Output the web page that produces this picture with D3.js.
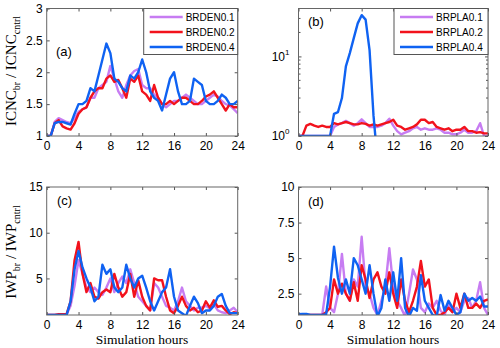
<!DOCTYPE html>
<html>
<head>
<meta charset="utf-8">
<script src="https://cdn.jsdelivr.net/npm/d3@7"></script>
<style>
  body { margin: 0; background: #fff; }
  svg { display: block; }
  .tick text { font-family: "Liberation Sans", Arial, sans-serif; font-size: 12px; fill: #000; }
  .ylab, .xlab { font-family: "Liberation Serif", "Times New Roman", serif; fill: #000; }
</style>
</head>
<body>
<svg id="chart" width="500" height="348"></svg>
<script>
// time grid, half-hour steps
var hours = d3.range(0, 24.001, 0.5);
var xTicks = [0, 4, 8, 12, 16, 20, 24];

var namesDEN = ["BRDEN0.1", "BRDEN0.2", "BRDEN0.4"];
var namesPLA = ["BRPLA0.1", "BRPLA0.2", "BRPLA0.4"];
var colors = ["#c77cf2", "#f2121c", "#0f62f2"];

// (a) ICNC ratio, BRDEN runs
var a_p = [1.0,1.0,1.22,1.28,1.25,1.22,1.2,1.28,1.38,1.42,1.45,1.6,1.6,1.75,1.8,1.85,2.1,1.9,1.7,1.6,1.8,1.95,2.02,2.05,1.8,1.75,1.75,1.65,1.6,1.5,1.45,1.5,1.55,1.55,1.6,1.65,1.6,1.55,1.5,1.5,1.55,1.6,1.65,1.62,1.55,1.5,1.48,1.42,1.36];
var a_r = [1.0,1.0,1.2,1.25,1.15,1.12,1.1,1.2,1.35,1.42,1.45,1.6,1.7,1.75,1.75,1.9,1.95,1.85,1.88,1.75,1.6,1.9,1.85,1.95,1.7,1.65,1.55,1.8,1.6,1.5,1.5,1.55,1.5,1.55,1.6,1.6,1.55,1.5,1.5,1.55,1.62,1.65,1.7,1.6,1.5,1.4,1.5,1.45,1.45];
var a_b = [1.0,1.0,1.2,1.22,1.22,1.2,1.18,1.35,1.5,1.5,1.55,1.75,1.7,1.95,2.2,2.45,2.3,1.9,1.85,1.75,1.7,1.95,1.9,2.0,2.2,2.0,1.7,1.6,1.55,1.4,1.65,1.9,2.0,1.7,1.5,1.5,1.55,1.9,1.85,1.8,1.55,1.5,1.5,1.55,1.65,1.6,1.5,1.5,1.55];

// (b) ICNC ratio, BRPLA runs (log axis)
var b_p = [1,1,1,1,1,1,1,1,1,1.3,1.4,1.45,1.55,1.45,1.35,1.45,1.62,1.45,1.3,1.3,1.3,1.35,1.45,1.65,1.35,1.15,1.05,1.1,1.15,1.25,1.3,1.2,1.25,1.2,1.2,1.25,1.2,1.1,1.1,1.05,1.05,1.1,1.2,1.1,1.1,1.15,1.45,1.0,1.0];
var b_r = [1,1,1.35,1.42,1.35,1.3,1.35,1.3,1.3,1.45,1.4,1.45,1.5,1.45,1.4,1.4,1.45,1.42,1.35,1.4,1.35,1.4,1.45,1.5,1.6,1.35,1.3,1.2,1.25,1.3,1.4,1.6,1.6,1.45,1.5,1.3,1.25,1.2,1.25,1.15,1.2,1.2,1.3,1.15,1.15,1.1,1.12,1.08,1.08];
var b_b = [1,1,1,1,1,1,1,1,1,1.9,2.0,3.0,7.5,11,17,26,33,29,12,1.8,0.5,0.5,0.5,0.5,0.5,0.5,0.5,0.5,0.5,0.5,0.5,0.5,0.5,0.5,0.5,0.5,0.5,0.5,0.5,0.5,0.5,0.5,0.5,0.5,0.5,0.5,0.5,0.5,0.5];

// (c) IWP ratio, BRDEN runs
var c_p = [1,1,1,1,1.05,1.05,2.0,4.2,7.0,5.5,4.0,3.5,4.0,3.5,3.2,4.0,5.0,3.5,4.5,5.2,4.5,6.0,4.5,3.0,2.5,2.0,1.5,4.5,4.0,3.0,2.0,1.8,1.5,2.5,4.0,2.5,2.0,1.5,1.8,1.8,2.0,1.7,2.2,1.5,1.3,1.2,1.5,1.8,1.3];
var c_r = [1,1,1,1.1,1.1,1.1,2.5,7.0,9.0,5.5,3.5,4.5,3.0,2.8,3.5,3.8,3.5,5.5,4.0,3.0,3.5,5.5,3.0,4.8,3.0,2.0,1.5,5.0,4.8,4.8,3.0,1.5,1.2,2.0,3.0,2.0,1.5,1.8,1.3,1.5,2.5,1.8,2.6,1.9,2.0,1.5,1.1,1.3,1.2];
var c_b = [1,1,1,1,1,1,2.5,6.0,8.0,6.2,5.0,4.0,2.5,3.0,6.5,5.5,6.0,4.0,3.5,4.0,6.5,5.0,4.0,5.0,5.3,4.0,2.5,1.5,2.5,3.5,4.0,6.0,3.0,1.5,1.2,0.9,2.0,3.0,2.3,1.2,1.5,1.5,2.0,3.0,3.3,2.0,1.2,1.2,1.2];

// (d) IWP ratio, BRPLA runs
var d_p = [1,1,1,1,1,1,1,3.0,1.5,1.2,2.5,5.3,2.5,2.0,3.5,3.0,6.5,3.0,2.5,1.5,1.0,2.0,3.0,5.7,3.0,2.0,1.5,0.9,2.5,4.2,3.5,1.5,1.2,1.8,1.5,2.0,1.3,1.0,1.8,1.2,1.5,1.2,2.0,2.2,1.5,2.0,3.3,1.5,1.0];
var d_r = [1,1,1,1,1,1,1,1.2,1.5,3.5,2.5,3.2,2.5,2.0,3.3,2.0,4.5,3.5,2.2,3.5,4.0,3.0,2.5,4.0,2.5,1.5,3.5,2.0,1.2,2.0,3.0,4.8,3.0,3.5,1.5,1.0,1.0,1.2,1.5,1.2,2.5,1.5,2.5,1.5,1.5,1.8,1.5,2.0,2.1];
var d_b = [1.05,1.08,1.08,1.0,1.0,1.0,1.0,1.05,3.0,5.8,3.6,2.5,3.5,2.5,5.0,4.5,3.5,2.5,4.5,2.5,0.9,1.5,3.5,2.0,4.0,2.0,5.0,1.5,0.9,1.5,1.3,3.8,2.0,1.5,1.0,0.9,2.4,1.3,2.0,1.5,1.0,1.2,2.5,2.0,2.2,2.0,2.3,1.6,1.6];

var svg = d3.select("#chart");

var panels = [
  {id: "a", x0: 46.7, x1: 237.7, y0: 8.5, y1: 136, dom: [1, 3], ticks: [1, 1.5, 2, 2.5, 3], log: false,
   series: [a_p, a_r, a_b], names: namesDEN, lab: "(a)", lx: 56, ly: 56},
  {id: "b", x0: 298.5, x1: 488, y0: 8.5, y1: 136, dom: [1, 40], ticks: [1, 10], log: true,
   series: [b_p, b_r, b_b], names: namesPLA, lab: "(b)", lx: 308, ly: 26},
  {id: "c", x0: 46.7, x1: 237.7, y0: 187, y1: 315, dom: [1, 15], ticks: [5, 10, 15], log: false,
   series: [c_p, c_r, c_b], lab: "(c)", lx: 57, ly: 205},
  {id: "d", x0: 298.5, x1: 488, y0: 187, y1: 315, dom: [1, 10], ticks: [2.5, 5, 7.5, 10], log: false,
   series: [d_p, d_r, d_b], lab: "(d)", lx: 308, ly: 206}
];

panels.forEach(function(p) {
  var x = d3.scaleLinear().domain([0, 24]).range([p.x0, p.x1]);
  var y = (p.log ? d3.scaleLog() : d3.scaleLinear()).domain(p.dom).range([p.y1, p.y0]);
  var w = p.x1 - p.x0, h = p.y1 - p.y0;

  svg.append("clipPath").attr("id", "clip-" + p.id)
    .append("rect").attr("x", p.x0).attr("y", p.y0).attr("width", w).attr("height", h);

  var g = svg.append("g").attr("class", "panel");

  // lines
  var line = d3.line()
    .x(function(d, i) { return x(hours[i]); })
    .y(function(d) { return y(d); });
  g.append("g").attr("clip-path", "url(#clip-" + p.id + ")")
    .selectAll("path").data(p.series).enter().append("path")
    .attr("d", line)
    .attr("fill", "none")
    .attr("stroke", function(d, i) { return colors[i]; })
    .attr("stroke-width", 2.4)
    .attr("stroke-linejoin", "round");

  // axes, ticks inside like matlab
  var tk = 3;
  g.append("g").attr("transform", "translate(0," + p.y1 + ")")
    .call(d3.axisBottom(x).tickValues(xTicks).tickSize(-tk).tickPadding(5).tickFormat(d3.format("d")))
    .call(function(s) { s.select(".domain").remove(); });
  g.append("g").attr("transform", "translate(0," + p.y0 + ")")
    .call(d3.axisTop(x).tickValues(xTicks).tickSize(-tk).tickFormat(""))
    .call(function(s) { s.select(".domain").remove(); });

  var yl = d3.axisLeft(y).tickValues(p.ticks).tickSize(-tk).tickPadding(4);
  if (p.log) yl.tickFormat(function() { return ""; });
  else yl.tickFormat(function(d) { return d; });
  var ga = g.append("g").attr("transform", "translate(" + p.x0 + ",0)").call(yl);
  ga.select(".domain").remove();
  g.append("g").attr("transform", "translate(" + p.x1 + ",0)")
    .call(d3.axisRight(y).tickValues(p.ticks).tickSize(-tk).tickFormat(""))
    .call(function(s) { s.select(".domain").remove(); });

  if (p.log) {
    // 10^n labels
    ga.selectAll(".tick text").each(function(d) {
      var t = d3.select(this).text("10").attr("dx", -5);
      t.append("tspan").attr("dy", -6).style("font-size", "8px").text(Math.round(Math.log10(d)));
    });
    // minor ticks
    var minors = [2, 3, 4, 5, 6, 7, 8, 9, 20, 30, 40];
    g.selectAll(".minor").data(minors).enter().append("line")
      .attr("x1", p.x0).attr("x2", p.x0 + 2)
      .attr("y1", function(d) { return y(d); }).attr("y2", function(d) { return y(d); })
      .attr("stroke", "#555");
    g.selectAll(".minorR").data(minors).enter().append("line")
      .attr("x1", p.x1).attr("x2", p.x1 - 2)
      .attr("y1", function(d) { return y(d); }).attr("y2", function(d) { return y(d); })
      .attr("stroke", "#555");
  }

  g.selectAll(".tick line").attr("stroke", "#555");

  // box
  g.append("rect").attr("x", p.x0).attr("y", p.y0).attr("width", w).attr("height", h)
    .attr("fill", "none").attr("stroke", "#666").attr("stroke-width", 1);

  // panel label
  g.append("text").attr("x", p.lx).attr("y", p.ly).text(p.lab)
    .style("font-family", "Liberation Sans, Arial, sans-serif").style("font-size", "13px");

  // legend
  if (p.names) {
    var lg = g.append("g").attr("transform", "translate(" + (p.x1 - 94) + "," + p.y0 + ")");
    lg.append("rect").attr("x", 0).attr("y", 0).attr("width", 94).attr("height", 46)
      .attr("fill", "#fff").attr("stroke", "#555");
    var rows = lg.selectAll(".row").data(p.names).enter().append("g")
      .attr("transform", function(d, i) { return "translate(0," + (8.5 + i * 15) + ")"; });
    rows.append("line").attr("x1", 6).attr("x2", 39)
      .attr("stroke", function(d, i) { return colors[i]; }).attr("stroke-width", 2.4);
    rows.append("text").attr("x", 42).attr("y", 3.5).text(function(d) { return d; })
      .style("font-family", "Liberation Sans, Arial, sans-serif").style("font-size", "10px");
  }
});

// y labels
function yLabel(cx, cy, base) {
  var t = svg.append("text").attr("class", "ylab")
    .attr("transform", "translate(" + cx + "," + cy + ") rotate(-90)")
    .attr("text-anchor", "middle").style("font-size", "15px");
  t.append("tspan").text(base);
  t.append("tspan").attr("dy", 4).style("font-size", "10px").text("br");
  t.append("tspan").attr("dy", -4).text(" / " + base);
  t.append("tspan").attr("dy", 4).style("font-size", "10px").text("cntrl");
}
yLabel(16, 71, "ICNC");
yLabel(16, 252, "IWP");

// x labels
[[142, 344], [393, 344]].forEach(function(c) {
  svg.append("text").attr("class", "xlab").attr("x", c[0]).attr("y", c[1])
    .attr("text-anchor", "middle").style("font-size", "13.5px").text("Simulation hours");
});
</script>
</body>
</html>
